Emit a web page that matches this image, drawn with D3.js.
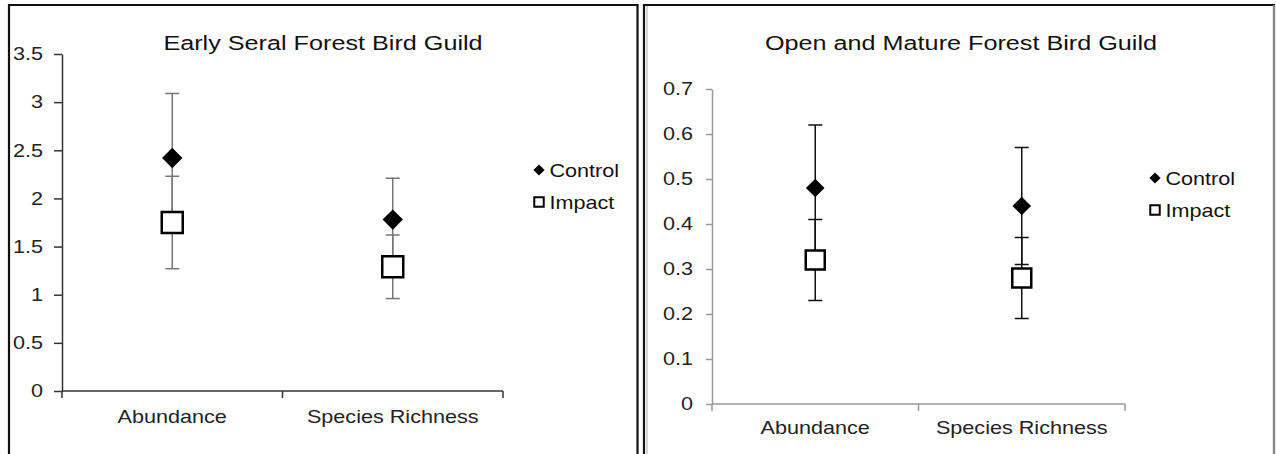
<!DOCTYPE html>
<html>
<head>
<meta charset="utf-8">
<script src="https://cdn.jsdelivr.net/npm/d3@7"></script>
<style>
  body { margin: 0; background: #fff; }
  svg { display: block; font-family: "Liberation Sans", Arial, sans-serif; }
</style>
</head>
<body>
<script>
// data
var categories = ['Abundance', 'Species Richness']
var seriesNames = ['Control', 'Impact']

var earlyTicks = [0, 0.5, 1, 1.5, 2, 2.5, 3, 3.5]
var earlyControl = [2.42, 1.78]
var earlyControlErr = [0.67, 0.43]
var earlyImpact = [1.75, 1.29]
var earlyImpactErr = [0.48, 0.33]

var matureTicks = [0, 0.1, 0.2, 0.3, 0.4, 0.5, 0.6, 0.7]
var matureControl = [0.48, 0.44]
var matureControlErr = [0.14, 0.13]
var matureImpact = [0.32, 0.28]
var matureImpactErr = [0.09, 0.09]

// the original text looks stretched sideways
var SX = 1.2

var svg = d3.select('body').append('svg')
    .attr('width', 1276)
    .attr('height', 454)

function stretchText(sel, x, y) {
    sel.attr('x', 0).attr('y', 0)
        .attr('transform', 'translate(' + x + ',' + y + ') scale(' + SX + ',1)')
}

function drawPanel(opt) {
    var g = svg.append('g').attr('class', 'panel')

    // frame around each chart
    g.append('path')
        .attr('d', 'M' + opt.box[0] + ',470 V' + opt.box[1] + ' H' + opt.box[2] + ' V470')
        .attr('fill', 'none')
        .attr('stroke', '#111')
        .attr('stroke-width', 2.2)
    if (opt.innerLine) {
        g.append('line')
            .attr('x1', opt.box[0] + 3).attr('x2', opt.box[0] + 3)
            .attr('y1', opt.box[1] + 1).attr('y2', 470)
            .attr('stroke', '#aaa').attr('stroke-width', 1)
        g.append('line')
            .attr('x1', opt.box[2]).attr('x2', opt.box[2])
            .attr('y1', opt.box[1]).attr('y2', 470)
            .attr('stroke', '#888').attr('stroke-width', 2)
    }

    var x = d3.scaleBand()
        .domain(categories)
        .range(opt.xRange)
    var y = d3.scaleLinear()
        .domain([0, opt.ticks[opt.ticks.length - 1]])
        .range(opt.yRange)

    // title
    g.append('text')
        .attr('text-anchor', 'middle')
        .attr('font-size', 21)
        .attr('fill', '#111')
        .text(opt.title)
        .call(stretchText, opt.titleX, 50)

    // y axis
    var yAxis = g.append('g')
        .attr('transform', 'translate(' + opt.xRange[0] + ',0)')
        .call(d3.axisLeft(y).tickValues(opt.ticks).tickFormat(function (d) { return String(d) })
            .tickSize(opt.tickLen).tickPadding(opt.tickPad).tickSizeOuter(0))
    yAxis.select('.domain').attr('stroke', opt.axisColor).attr('stroke-width', 1.5)
    yAxis.selectAll('.tick line').attr('stroke', opt.axisColor).attr('stroke-width', 1.5)
    yAxis.selectAll('.tick text')
        .attr('font-size', 18)
        .attr('fill', '#222')
        .attr('font-family', '"Liberation Sans", Arial, sans-serif')
        .each(function () {
            var t = d3.select(this)
            t.attr('x', +t.attr('x') / SX).attr('transform', 'scale(' + SX + ',1)')
        })

    // x axis with ticks at category boundaries
    var xAxisG = g.append('g')
        .attr('transform', 'translate(0,' + opt.yRange[0] + ')')
    xAxisG.append('line')
        .attr('x1', opt.xRange[0]).attr('x2', opt.xRange[1])
        .attr('stroke', opt.axisColor).attr('stroke-width', 1.5)
    var bounds = [opt.xRange[0], x(categories[1]), opt.xRange[1]]
    xAxisG.selectAll('.bt').data(bounds).enter().append('line')
        .attr('x1', function (d) { return d }).attr('x2', function (d) { return d })
        .attr('y1', 0).attr('y2', 7)
        .attr('stroke', opt.axisColor).attr('stroke-width', 1.5)
    xAxisG.selectAll('.cat').data(categories).enter().append('text')
        .attr('text-anchor', 'middle')
        .attr('font-size', 18)
        .attr('fill', '#222')
        .text(function (d) { return d })
        .each(function (d) {
            d3.select(this).call(stretchText, x(d) + x.bandwidth() / 2, opt.catY)
        })

    var series = [
        { name: 'Control', vals: opt.control, errs: opt.controlErr },
        { name: 'Impact', vals: opt.impact, errs: opt.impactErr }
    ]

    // error bars first, markers drawn on top
    series.forEach(function (s) {
        var eb = g.append('g')
        categories.forEach(function (c, i) {
            var cx = x(c) + x.bandwidth() / 2
            var hi = y(s.vals[i] + s.errs[i])
            var lo = y(s.vals[i] - s.errs[i])
            eb.append('line')
                .attr('x1', cx).attr('x2', cx).attr('y1', hi).attr('y2', lo)
                .attr('stroke', opt.errColor).attr('stroke-width', 1.5)
            eb.append('line')
                .attr('x1', cx - 7).attr('x2', cx + 7).attr('y1', hi).attr('y2', hi)
                .attr('stroke', opt.errColor).attr('stroke-width', 1.5)
            eb.append('line')
                .attr('x1', cx - 7).attr('x2', cx + 7).attr('y1', lo).attr('y2', lo)
                .attr('stroke', opt.errColor).attr('stroke-width', 1.5)
        })
    })

    var diamond = d3.symbol().type(d3.symbolDiamond2).size(opt.markSize * opt.markSize / 2)
    var square = d3.symbol().type(d3.symbolSquare).size(opt.boxSize * opt.boxSize)

    g.selectAll('.ctrl').data(opt.control).enter().append('path')
        .attr('d', diamond)
        .attr('transform', function (d, i) {
            return 'translate(' + (x(categories[i]) + x.bandwidth() / 2) + ',' + y(d) + ')'
        })
        .attr('fill', '#000')
    g.selectAll('.imp').data(opt.impact).enter().append('path')
        .attr('d', square)
        .attr('transform', function (d, i) {
            return 'translate(' + (x(categories[i]) + x.bandwidth() / 2) + ',' + y(d) + ')'
        })
        .attr('fill', '#fff')
        .attr('stroke', '#000')
        .attr('stroke-width', 2.5)

    // legend
    var leg = g.append('g').attr('transform', 'translate(' + opt.legend[0] + ',' + opt.legend[1] + ')')
    leg.append('path')
        .attr('d', d3.symbol().type(d3.symbolDiamond2).size(80))
        .attr('fill', '#000')
    leg.append('path')
        .attr('d', d3.symbol().type(d3.symbolSquare).size(90))
        .attr('transform', 'translate(0,32)')
        .attr('fill', '#fff').attr('stroke', '#000').attr('stroke-width', 2)
    leg.selectAll('text').data(seriesNames).enter().append('text')
        .attr('font-size', 18)
        .attr('fill', '#111')
        .text(function (d) { return d })
        .each(function (d, i) {
            d3.select(this).call(stretchText, 10.5, i * 32 + 6.5)
        })
}

drawPanel({
    box: [9, 5, 637.5],
    title: 'Early Seral Forest Bird Guild',
    titleX: 323,
    ticks: earlyTicks,
    xRange: [62, 503],
    yRange: [391, 54],
    tickLen: 8,
    tickPad: 11,
    catY: 32,
    axisColor: '#333',
    errColor: '#777',
    control: earlyControl, controlErr: earlyControlErr,
    impact: earlyImpact, impactErr: earlyImpactErr,
    markSize: 23, boxSize: 21,
    legend: [539, 170]
})

drawPanel({
    box: [644, 5, 1274],
    innerLine: true,
    title: 'Open and Mature Forest Bird Guild',
    titleX: 961,
    ticks: matureTicks,
    xRange: [712, 1125],
    yRange: [404, 89],
    tickLen: 6,
    tickPad: 13,
    catY: 30,
    axisColor: '#999',
    errColor: '#111',
    control: matureControl, controlErr: matureControlErr,
    impact: matureImpact, impactErr: matureImpactErr,
    markSize: 21, boxSize: 19,
    legend: [1155, 178]
})
</script>
</body>
</html>
